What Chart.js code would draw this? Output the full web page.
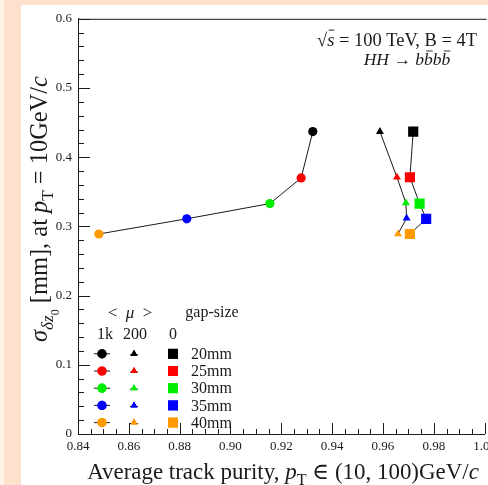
<!DOCTYPE html>
<html><head><meta charset="utf-8">
<script src="https://cdn.jsdelivr.net/npm/chart.js@4.4.1/dist/chart.umd.min.js"></script>
<style>
html,body{margin:0;padding:0;width:488px;height:485px;overflow:hidden;background:#fde1cc;}
#strip{position:absolute;left:0;top:0;width:4px;height:485px;background:#fdf1e8;}
#wrap{position:absolute;left:21px;top:5px;width:480px;height:480px;background:#fff;}
canvas{display:block;}
</style></head>
<body><div id="strip"></div><div id="wrap"><canvas id="c" width="480" height="480"></canvas></div>
<script>
// ---- data ----
const gapSizes = ['20mm', '25mm', '30mm', '35mm', '40mm'];
const gapColors = ['#000000', '#ff0000', '#00ee00', '#0000ff', '#ff9900'];
const muLabels = ['1k', '200', '0'];
const purity1k  = [0.9324, 0.9278, 0.9155, 0.8828, 0.8482];
const sigma1k   = [0.437, 0.370, 0.333, 0.311, 0.289];
const purity200 = [0.9588, 0.9655, 0.9690, 0.9693, 0.9659];
const sigma200  = [0.437, 0.371, 0.334, 0.312, 0.289];
const purity0   = [0.9719, 0.9706, 0.9744, 0.9770, 0.9706];
const sigma0    = [0.437, 0.371, 0.333, 0.311, 0.289];
const xTicks = {min: 0.84, max: 1.0, step: 0.02, minor: 0.005};
const yTicks = {min: 0, max: 0.6, step: 0.1, minor: 0.02};

const FONT = "'Liberation Serif','DejaVu Serif',serif";
const INK = '#1a1a1a';

function pts(xs, ys) { return xs.map((x, i) => ({x: x, y: ys[i]})); }
const seriesDefs = [
  {label: '1k', xs: purity1k, ys: sigma1k, style: 'circle', r: 4.6},
  {label: '200', xs: purity200, ys: sigma200, style: 'triangle', r: 4.6},
  {label: '0', xs: purity0, ys: sigma0, style: 'rect', r: 7.2}
];

// ---- rich text helpers ----
function setF(ctx, size, it) { ctx.font = (it ? 'italic ' : '') + size.toFixed(2) + 'px ' + FONT; }
function measureRich(ctx, segs, size) {
  let w = 0; const out = [];
  for (const s of segs) {
    const lv = s.sub || 0;
    const sz = size * Math.pow(0.7, lv);
    setF(ctx, sz, s.it);
    const sw = ctx.measureText(s.t).width;
    out.push({s: s, sz: sz, x: w, w: sw, dy: lv * size * 0.24});
    w += sw;
  }
  return {w: w, out: out};
}
function fitSize(ctx, segs, targetW) {
  const m = measureRich(ctx, segs, 20);
  return 20 * targetW / m.w;
}
function drawRich(ctx, segs, cx, baseY, size, color) {
  const m = measureRich(ctx, segs, size);
  const x0 = cx - m.w / 2;
  ctx.fillStyle = color; ctx.strokeStyle = color;
  ctx.textAlign = 'left'; ctx.textBaseline = 'alphabetic';
  for (const o of m.out) {
    setF(ctx, o.sz, o.s.it);
    ctx.fillText(o.s.t, x0 + o.x, baseY + o.dy);
    if (o.s.bar) {
      ctx.lineWidth = Math.max(0.8, size * 0.05);
      const by = baseY + o.dy - o.sz * (o.s.barH || 0.8);
      ctx.beginPath();
      ctx.moveTo(x0 + o.x + o.w * (o.s.barL || 0.2), by);
      ctx.lineTo(x0 + o.x + o.w * 1.0, by);
      ctx.stroke();
    }
  }
}

const yTitle = [
  {t: 'σ', it: true}, {t: 'δz', it: true, sub: 1}, {t: '0', sub: 2},
  {t: ' [mm], at '}, {t: 'p', it: true}, {t: 'T', sub: 1},
  {t: ' = 10GeV/'}, {t: 'c', it: true}
];
const xTitle = [
  {t: 'Average track purity, '}, {t: 'p', it: true}, {t: 'T', sub: 1},
  {t: ' ∈ (10, 100)GeV/'}, {t: 'c', it: true}
];
const note1 = [
  {t: '√'}, {t: 's', it: true, bar: true, barH: 0.86, barL: 0}, {t: ' = 100 TeV, B = 4T'}
];
const note2 = [
  {t: 'HH', it: true}, {t: ' → '}, {t: 'b', it: true}, {t: 'b', it: true, bar: true, barH: 0.8, barL: 0.25},
  {t: 'b', it: true}, {t: 'b', it: true, bar: true, barH: 0.8, barL: 0.25}
];

const decor = {
  id: 'decor',
  beforeDatasetsDraw(chart) {
    const ctx = chart.ctx, ca = chart.chartArea;
    const xs = chart.scales.x, ys = chart.scales.y;
    ctx.save();
    ctx.strokeStyle = INK; ctx.lineWidth = 1;
    ctx.beginPath(); ctx.moveTo(ca.left, ca.top + 0.5); ctx.lineTo(ca.right + 2, ca.top + 0.5); ctx.stroke();
    const ny = Math.round((yTicks.max - yTicks.min) / yTicks.minor);
    const per = Math.round(yTicks.step / yTicks.minor);
    for (let i = 0; i <= ny; i++) {
      const py = Math.round(ys.getPixelForValue(yTicks.min + i * yTicks.minor)) + 0.5;
      const len = (i % per === 0) ? 12 : 6;
      ctx.beginPath(); ctx.moveTo(ca.left, py); ctx.lineTo(ca.left + len, py); ctx.stroke();
    }
    const nx = Math.round((xTicks.max - xTicks.min) / xTicks.minor);
    const perx = Math.round(xTicks.step / xTicks.minor);
    for (let i = 0; i <= nx; i++) {
      const px = Math.round(xs.getPixelForValue(xTicks.min + i * xTicks.minor)) + 0.5;
      const len = (i % perx === 0) ? 11 : 5;
      ctx.beginPath(); ctx.moveTo(px, ca.bottom); ctx.lineTo(px, ca.bottom - len); ctx.stroke();
    }
    ctx.restore();
  },
  afterDraw(chart) {
    const ctx = chart.ctx, ca = chart.chartArea;
    ctx.save();
    const sx = fitSize(ctx, xTitle, 392);
    drawRich(ctx, xTitle, ca.left + 205, 474, sx, INK);
    const sy = fitSize(ctx, yTitle, 266);
    ctx.save();
    ctx.translate(19, 204);
    ctx.rotate(-Math.PI / 2);
    drawRich(ctx, yTitle, 0, sy * 0.3, sy, INK);
    ctx.restore();
    // annotation
    const s1 = fitSize(ctx, note1, 160);
    drawRich(ctx, note1, ca.left + 319, 41, s1, INK);
    drawRich(ctx, note2, ca.left + 329, 60, s1 * 0.95, INK);
    // legend
    const L = ca.left, T = ca.top;
    drawRich(ctx, [{t: '<  '}, {t: 'μ', it: true}, {t: '  >'}], L + 52, T + 299, 17, INK);
    setF(ctx, 16, false); ctx.fillStyle = INK; ctx.textAlign = 'center'; ctx.textBaseline = 'middle';
    ctx.fillText('gap-size', L + 134, T + 294);
    const colX = [L + 24, L + 56, L + 95];
    const hdrX = [L + 27, L + 57, L + 95];
    muLabels.forEach((m, i) => ctx.fillText(m, hdrX[i], T + 316));
    gapSizes.forEach((g, r) => {
      const y = T + 335 + r * 17.2;
      ctx.strokeStyle = INK; ctx.lineWidth = 1;
      ctx.beginPath(); ctx.moveTo(colX[0] - 8, y); ctx.lineTo(colX[0] + 8, y); ctx.stroke();
      ctx.beginPath(); ctx.moveTo(colX[1] - 4, y + 1); ctx.lineTo(colX[1] + 4, y + 1); ctx.stroke();
      const opts = [
        {pointStyle: 'circle', radius: 4.6},
        {pointStyle: 'triangle', radius: 4.0},
        {pointStyle: 'rect', radius: 7.0}
      ];
      opts.forEach((o, i) => {
        ctx.fillStyle = gapColors[r]; ctx.strokeStyle = gapColors[r];
        Chart.helpers.drawPoint(ctx, {pointStyle: o.pointStyle, radius: o.radius, rotation: 0, borderWidth: 0}, colX[i], y);
        ctx.fill();
      });
      setF(ctx, 16, false);
      ctx.fillStyle = INK; ctx.textAlign = 'left'; ctx.textBaseline = 'middle';
      ctx.fillText(g, L + 113, y + 1);
    });
    ctx.restore();
  }
};

const datasets = seriesDefs.map(s => ({
  label: s.label,
  data: pts(s.xs, s.ys),
  showLine: true,
  borderColor: INK,
  borderWidth: 1,
  pointStyle: s.style,
  pointRadius: s.r,
  pointBackgroundColor: gapColors,
  pointBorderColor: gapColors,
  pointBorderWidth: 0
}));

new Chart(document.getElementById('c'), {
  type: 'scatter',
  data: {datasets: datasets},
  plugins: [decor],
  options: {
    responsive: false, animation: false, devicePixelRatio: 1,
    layout: {padding: {top: 12, right: 13, left: 0, bottom: 0}},
    plugins: {legend: {display: false}, tooltip: {enabled: false}},
    scales: {
      x: {
        type: 'linear', min: xTicks.min, max: xTicks.max,
        grid: {display: false, drawTicks: false},
        border: {display: true, color: INK, width: 1},
        ticks: {stepSize: xTicks.step, padding: 5, color: INK, autoSkip: false, maxRotation: 0,
                font: {family: FONT, size: 13}},
        afterFit: s => { s.height = 51; }
      },
      y: {
        type: 'linear', min: yTicks.min, max: yTicks.max,
        grid: {display: false, drawTicks: false},
        border: {display: true, color: INK, width: 1},
        ticks: {stepSize: yTicks.step, padding: 6, color: INK,
                font: {family: FONT, size: 13}},
        afterFit: s => { s.width = 57; }
      }
    }
  }
});
</script>
</body></html>
